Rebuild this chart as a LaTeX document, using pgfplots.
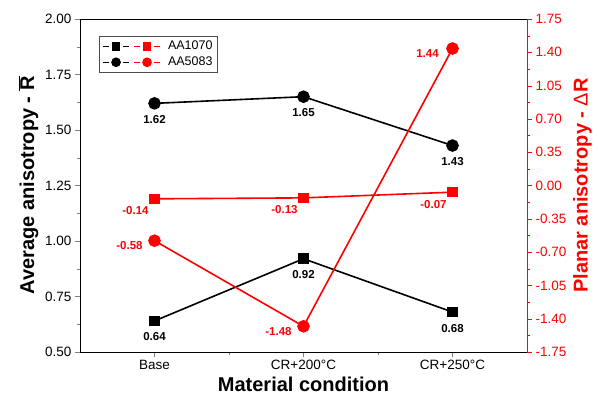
\documentclass[border=0pt]{standalone}
\usepackage{pgfplots}
\pgfplotsset{compat=1.18}
\usepackage{fontspec}
\setmainfont{Liberation Sans}
\begin{document}
\begin{tikzpicture}
\pgfplotsset{
  common/.style={
    scale only axis, width=447pt, height=333pt,
    xmin=-0.5, xmax=2.5,
    xtick={0,1,2}, xticklabels={Base, CR+200\textdegree C, CR+250\textdegree C},
    minor xtick={0.5,1.5},
    /pgf/number format/assume math mode=true,
    tick label style={font=\fontsize{13.5}{16}\selectfont},
    label style={font=\fontsize{20}{24}\selectfont\bfseries},
    tick align=outside,
    major tick length=5pt, minor tick length=3pt,
    yticklabel style={/pgf/number format/fixed, /pgf/number format/fixed zerofill, /pgf/number format/precision=2},
    every axis plot/.append style={line width=1.6pt},
  },
  lab/.style={nodes near coords={\pgfmathprintnumber[fixed,fixed zerofill,precision=2]{\pgfplotspointmeta}},
    nodes near coords style={font=\fontsize{11.5}{13}\selectfont\bfseries, anchor=center, #1}},
}
\begin{axis}[common,
  ymin=0.5, ymax=2.0,
  ytick={0.5,0.75,1.0,1.25,1.5,1.75,2.0},
  minor y tick num=1,
  xtick pos=bottom, ytick pos=left,
  xlabel={Material condition},
  ylabel={Average anisotropy - $\overline{\mbox{R}}$},
  legend style={at={(rel axis cs:0.0425,0.949)}, anchor=north west, draw=black!70, line width=0.6pt,
    inner xsep=3pt, inner ysep=2pt, row sep=0pt},
  legend cell align=left,
]
\coordinate (bl) at (rel axis cs:0,0);
\coordinate (tr) at (rel axis cs:1,1);
\addplot[black, mark=square*, mark size=4.5pt, forget plot, lab={yshift=-16pt}] coordinates {(0,0.64) (1,0.92) (2,0.68)};
\addplot[black, mark=*, mark size=5.5pt, forget plot, lab={yshift=-16pt}] coordinates {(0,1.62) (1,1.65) (2,1.43)};
\addlegendimage{legend image code/.code={
  \path[draw=none,fill=none] (0pt,-8pt) rectangle (63pt,8pt);
  \draw[black,line width=1.5pt] (0pt,0pt)--(6pt,0pt) (20pt,0pt)--(26pt,0pt);
  \fill[black] (9.5pt,-3.5pt) rectangle (16.5pt,3.5pt);
  \draw[red,line width=1.5pt] (31pt,0pt)--(37pt,0pt) (51pt,0pt)--(57pt,0pt);
  \fill[red] (40.5pt,-3.5pt) rectangle (47.5pt,3.5pt);
}}
\addlegendentry{\fontsize{12.5}{15}\selectfont AA1070}
\addlegendimage{legend image code/.code={
  \path[draw=none,fill=none] (0pt,-8pt) rectangle (63pt,8pt);
  \draw[black,line width=1.5pt] (0pt,0pt)--(6pt,0pt) (20pt,0pt)--(26pt,0pt);
  \fill[black] (13pt,0pt) circle (4pt);
  \draw[red,line width=1.5pt] (31pt,0pt)--(37pt,0pt) (51pt,0pt)--(57pt,0pt);
  \fill[red] (44pt,0pt) circle (4pt);
}}
\addlegendentry{\fontsize{12.5}{15}\selectfont AA5083}
\end{axis}
\begin{axis}[common,
  ymin=-1.75, ymax=1.75,
  ytick={-1.75,-1.40,-1.05,-0.70,-0.35,0,0.35,0.70,1.05,1.40,1.75},
  minor y tick num=1,
  axis y line*=right, axis x line=none,
  y axis line style={red, line width=0.8pt},
  ytick style={red}, every minor y tick/.append style={red},
  yticklabel style={red},
  ylabel style={red},
  ylabel={Planar anisotropy - {\mdseries Δ}R},
]
\addplot[red, mark=square*, mark size=4.5pt, lab={red, xshift=-19pt, yshift=-12pt}] coordinates {(0,-0.14) (1,-0.13) (2,-0.07)};
\addplot[red, mark=*, mark size=5.5pt, lab={red, xshift=-25pt, yshift=-5pt}] coordinates {(0,-0.58) (1,-1.48) (2,1.44)};
\end{axis}
\pgfresetboundingbox
\path ([xshift=-80pt,yshift=-58pt]bl) rectangle ([xshift=71pt,yshift=19pt]tr);
\end{tikzpicture}
\end{document}
